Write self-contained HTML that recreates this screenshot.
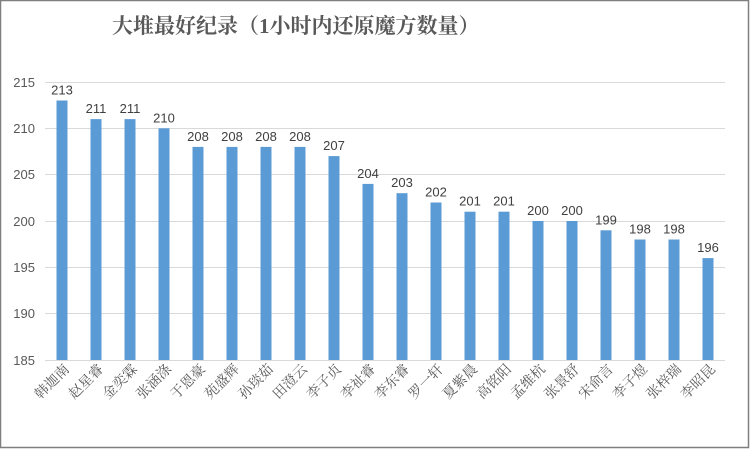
<!DOCTYPE html>
<html><head><meta charset="utf-8"><style>
body{margin:0;background:#fff;}
svg{display:block}
.v{font-family:"Liberation Sans",sans-serif;font-size:13px;fill:#404040;text-anchor:middle}
.n{font-family:"Liberation Serif","Noto Serif CJK SC",serif;font-size:14px;fill:#595959;text-anchor:end}
</style></head><body>
<svg width="750" height="449" xmlns="http://www.w3.org/2000/svg">
<rect x="0.5" y="0.5" width="748" height="447" fill="#fff" stroke="#7f7f7f" stroke-width="1.5"/>
<text x="112" y="33" font-family="'Liberation Serif','Noto Serif CJK SC',serif" font-size="21" fill="#595959" font-weight="bold">大堆最好纪录（1小时内还原魔方数量）</text>
<g stroke="#d9d9d9" stroke-width="1">
<line x1="45" x2="725" y1="82.5" y2="82.5"/>
<line x1="45" x2="725" y1="128.5" y2="128.5"/>
<line x1="45" x2="725" y1="174.5" y2="174.5"/>
<line x1="45" x2="725" y1="221.5" y2="221.5"/>
<line x1="45" x2="725" y1="267.5" y2="267.5"/>
<line x1="45" x2="725" y1="313.5" y2="313.5"/>
<line x1="45" x2="725" y1="360.5" y2="360.5"/>
</g>
<g font-family="'Liberation Sans',sans-serif" font-size="13" fill="#595959" text-anchor="end">
<text x="35" y="87">215</text><text x="35" y="133">210</text><text x="35" y="179">205</text><text x="35" y="226">200</text><text x="35" y="272">195</text><text x="35" y="318">190</text><text x="35" y="365">185</text>
</g>
<g fill="#5b9bd5">
<rect x="56.5" y="100.5" width="11" height="259.5"/>
<rect x="90.5" y="119.1" width="11" height="240.9"/>
<rect x="124.5" y="119.1" width="11" height="240.9"/>
<rect x="158.5" y="128.3" width="11" height="231.7"/>
<rect x="192.5" y="146.9" width="11" height="213.1"/>
<rect x="226.5" y="146.9" width="11" height="213.1"/>
<rect x="260.5" y="146.9" width="11" height="213.1"/>
<rect x="294.5" y="146.9" width="11" height="213.1"/>
<rect x="328.5" y="156.1" width="11" height="203.9"/>
<rect x="362.5" y="183.9" width="11" height="176.1"/>
<rect x="396.5" y="193.2" width="11" height="166.8"/>
<rect x="430.5" y="202.5" width="11" height="157.5"/>
<rect x="464.5" y="211.7" width="11" height="148.3"/>
<rect x="498.5" y="211.7" width="11" height="148.3"/>
<rect x="532.5" y="221" width="11" height="139"/>
<rect x="566.5" y="221" width="11" height="139"/>
<rect x="600.5" y="230.3" width="11" height="129.7"/>
<rect x="634.5" y="239.5" width="11" height="120.5"/>
<rect x="668.5" y="239.5" width="11" height="120.5"/>
<rect x="702.5" y="258.1" width="11" height="101.9"/>
</g>
<g>
<text class="v" x="62" y="94.5">213</text>
<text class="v" x="96" y="113">211</text>
<text class="v" x="130" y="113">211</text>
<text class="v" x="164" y="122.3">210</text>
<text class="v" x="198" y="140.9">208</text>
<text class="v" x="232" y="140.9">208</text>
<text class="v" x="266" y="140.9">208</text>
<text class="v" x="300" y="140.9">208</text>
<text class="v" x="334" y="150.1">207</text>
<text class="v" x="368" y="177.9">204</text>
<text class="v" x="402" y="187.2">203</text>
<text class="v" x="436" y="196.5">202</text>
<text class="v" x="470" y="205.7">201</text>
<text class="v" x="504" y="205.7">201</text>
<text class="v" x="538" y="215">200</text>
<text class="v" x="572" y="215">200</text>
<text class="v" x="606" y="224.3">199</text>
<text class="v" x="640" y="233.5">198</text>
<text class="v" x="674" y="233.5">198</text>
<text class="v" x="708" y="252.1">196</text>
</g>
<g>
<text class="n" transform="translate(70,370) rotate(-45)">韩迦南</text>
<text class="n" transform="translate(104,370) rotate(-45)">赵星睿</text>
<text class="n" transform="translate(138,370) rotate(-45)">金奕霖</text>
<text class="n" transform="translate(172,370) rotate(-45)">张涵涤</text>
<text class="n" transform="translate(206,370) rotate(-45)">于恩豪</text>
<text class="n" transform="translate(240,370) rotate(-45)">苑盛辉</text>
<text class="n" transform="translate(274,370) rotate(-45)">孙琰茹</text>
<text class="n" transform="translate(308,370) rotate(-45)">田澄云</text>
<text class="n" transform="translate(342,370) rotate(-45)">李子贞</text>
<text class="n" transform="translate(376,370) rotate(-45)">李祉睿</text>
<text class="n" transform="translate(410,370) rotate(-45)">李东睿</text>
<text class="n" transform="translate(444,370) rotate(-45)">罗一轩</text>
<text class="n" transform="translate(478,370) rotate(-45)">夏紫晨</text>
<text class="n" transform="translate(512,370) rotate(-45)">高铭阳</text>
<text class="n" transform="translate(546,370) rotate(-45)">孟维杭</text>
<text class="n" transform="translate(580,370) rotate(-45)">张景舒</text>
<text class="n" transform="translate(614,370) rotate(-45)">宋俞言</text>
<text class="n" transform="translate(648,370) rotate(-45)">李子煜</text>
<text class="n" transform="translate(682,370) rotate(-45)">张梓瑞</text>
<text class="n" transform="translate(716,370) rotate(-45)">李昭昆</text>
</g>
</svg>
</body></html>
